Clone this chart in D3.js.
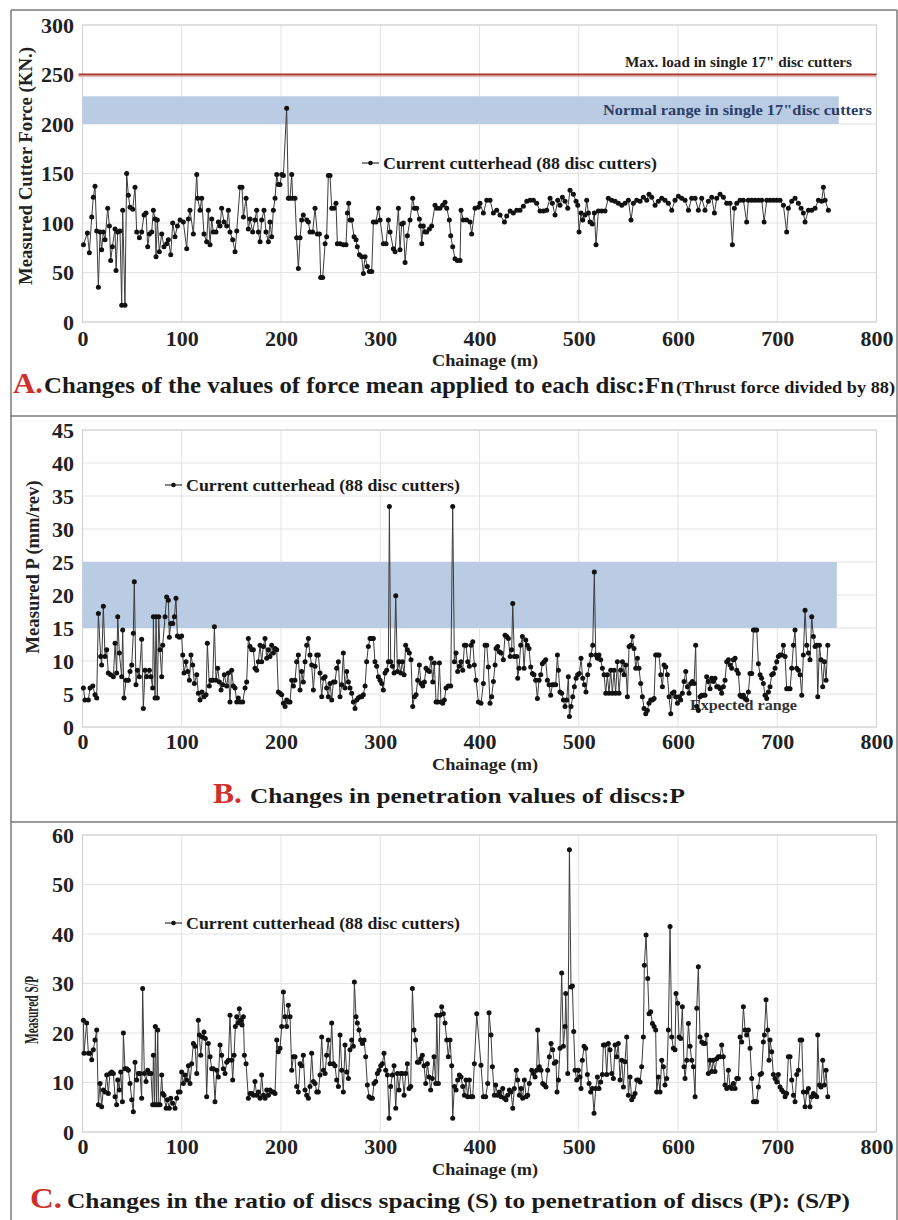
<!DOCTYPE html>
<html><head><meta charset="utf-8">
<script src="https://cdn.jsdelivr.net/npm/d3@7"></script>
<style>body{margin:0;background:#fff}svg{display:block}</style>
</head><body><svg id="c" width="898" height="1220"></svg>
<script>
// ---------------- DATA ----------------
const xTicks = [0,100,200,300,400,500,600,700,800];
const forceTicks = [0,50,100,150,200,250,300];
const penTicks = [0,5,10,15,20,25,30,35,40,45];
const spTicks = [0,10,20,30,40,50,60];

const chainageA = [1,4.9,6.9,9.3,10.9,12.6,14.3,16.0,17.7,19.3,
21.0,22.7,25.4,27.1,28.4,30.1,32.8,33.8,35.5,37.8,
39.5,40.5,42.8,44.5,46.2,47.9,50.6,52.9,54.6,57.3,
59.6,62.0,64.0,65.7,67.4,69.7,71.4,73.1,74.1,75.4,
77.4,79.8,82.1,84.8,86.5,88.9,90.9,93.2,95.6,98.3,
101.6,105.0,106.7,108.3,111.7,115.1,116.1,118.4,120.1,122.4,
125.1,126.8,128.5,130.2,131.8,134.5,136.9,138.6,140.2,142.6,
145.3,147.0,148.6,151.3,153.7,155.4,158.7,160.7,162.1,164.8,
167.1,168.8,171.5,173.8,175.5,177.2,178.9,180.5,182.9,184.9,
187.3,188.9,190.6,192.3,194.0,195.7,197.3,199.0,200.7,202.4,
205.7,207.4,209.1,210.8,211.8,214.1,215.8,217.5,219.2,220.8,
222.5,225.9,227.6,229.2,231.9,234.3,236.6,238.7,240.0,242.0,
244.4,246.0,247.7,249.4,251.1,253.4,255.4,256.8,259.5,262.8,
265.5,266.9,268.2,269.5,271.2,273.6,275.6,276.9,279.0,281.3,
283.0,284.7,287.0,289.0,291.4,293.1,295.7,298.1,299.8,303.1,
305.8,308.2,309.9,313.2,314.9,318.3,319.9,321.6,323.3,325.0,
327.3,330.0,332.7,334.4,336.7,339.4,340.7,341.8,343.4,345.1,
346.8,349.5,351.8,355.2,356.9,360.2,362.9,365.3,367.0,369.6,
371.0,373.0,375.3,377.7,380.4,381.4,383.7,387.1,390.5,392.1,
395.5,398.9,
400.5,403.9,407.3,410.6,414.0,417.3,420.7,425.1,427.4,430.8,
434.1,437.5,440.8,444.2,447.6,450.9,454.3,457.6,461.0,464.4,
467.7,471.1,473.4,476.1,478.8,481.1,483.5,486.2,488.9,491.2,
494.6,497.3,499.0,500.3,502.3,504.0,506.3,508.0,509.7,511.4,
513.7,515.7,517.4,519.8,523.1,526.5,529.8,533.2,536.6,539.9,
543.3,546.6,550.0,552.7,555.0,558.4,561.8,565.1,568.5,570.8,
573.5,576.9,580.2,583.6,586.9,590.3,593.7,597.0,600.4,603.7,
607.1,610.5,613.8,617.2,620.5,623.9,627.2,630.6,634.0,636.7,
639.0,642.4,645.7,649.1,652.4,654.8,656.8,659.2,662.5,665.9,
669.2,670.9,674.3,677.6,681.0,684.4,686.7,689.4,692.7,696.1,
699.5,702.8,706.2,709.5,711.2,714.6,717.9,721.3,724.0,726.3,
728.0,731.4,734.7,738.1,741.5,744.8,746.5,748.2,751.5];

const forceA = [78,90,70,106,126,137,92,35,91,73,
91,83,115,97,62,76,94,52,91,92,
17,113,17,150,128,116,114,136,91,85,
91,108,110,76,89,91,113,104,66,103,
71,89,76,79,83,68,100,86,97,103,
101,74,104,113,89,149,125,113,125,89,
81,113,78,104,91,91,101,97,115,101,
97,113,91,83,71,92,136,136,106,125,
94,104,91,103,113,91,81,103,113,91,
81,101,86,113,125,149,139,139,149,148,
216,125,125,149,125,125,85,54,85,103,
108,103,101,91,91,115,89,89,45,45,
79,86,148,148,115,115,120,79,79,78,
78,110,120,103,103,86,83,76,68,66,
49,66,56,51,51,101,101,115,103,79,
79,103,91,74,71,115,73,99,100,60,
87,103,125,115,115,104,97,79,97,91,
91,94,97,118,115,115,118,121,115,103,
87,76,64,62,62,113,103,103,101,89,
115,116,
120,110,123,123,110,113,108,101,107,112,
110,113,113,117,122,123,123,120,112,112,
113,125,120,108,123,118,126,122,115,133,
129,122,118,91,110,103,108,123,110,101,
99,110,78,112,112,112,125,123,122,120,
118,120,123,103,120,123,122,126,123,129,
126,118,122,125,123,120,113,123,127,125,
123,113,125,125,113,125,113,122,126,110,
125,129,126,120,120,78,115,120,123,123,
101,123,123,123,123,123,101,123,123,123,
123,123,118,91,115,122,125,120,115,110,
101,113,113,115,123,122,136,123,113];

const chainageB = [0.9,2.5,5.9,7.6,10.3,12.6,14.3,16.0,18.3,19.3,
21.0,22.7,24.4,26.0,28.4,31.1,32.8,34.4,35.5,37.1,
39.5,40.5,41.8,43.9,46.2,47.9,49.6,51.2,52.2,53.9,
55.3,57.3,59.6,61.3,63.0,64.7,67.4,69.0,70.7,71.4,
73.1,74.1,75.4,76.8,78.1,79.8,80.8,83.2,84.8,86.5,
87.5,88.9,90.9,92.6,94.2,95.6,97.6,99.9,101.0,102.3,
104.3,106.0,107.7,109.3,111.0,112.7,115.1,116.7,118.4,120.4,
122.4,124.5,125.8,127.8,129.5,131.2,132.9,134.5,136.2,137.9,
139.6,141.3,142.9,145.3,147.0,148.6,150.3,152.0,153.7,155.4,
157.0,158.7,161.4,163.8,165.4,167.1,168.8,170.5,172.2,173.8,
175.5,177.2,178.9,180.5,182.2,183.9,185.6,187.3,188.9,190.6,
192.3,194.0,195.7,197.3,199.0,200.7,202.4,204.1,205.7,207.4,
209.1,210.8,212.5,214.1,215.8,217.5,219.2,220.8,222.5,224.2,
225.9,227.6,229.2,230.9,232.6,234.3,236.0,237.6,239.3,241.0,
242.7,244.4,246.0,247.7,249.4,251.1,252.8,254.4,256.1,257.8,
259.5,261.2,262.8,264.5,266.2,267.9,269.5,271.2,272.9,274.6,
276.3,277.9,279.6,281.3,283.0,284.7,286.3,288.0,289.7,291.4,
293.1,294.7,296.4,298.1,299.8,301.5,303.1,304.8,306.5,308.2,
309.2,310.5,312.2,313.9,315.6,317.3,318.9,320.6,322.3,324.0,
325.6,327.3,329.3,331.0,332.7,334.4,336.1,337.7,339.4,341.1,
342.8,344.5,346.1,347.8,349.5,351.2,352.9,354.5,356.2,357.9,
359.6,361.2,362.9,364.6,366.3,368.6,371.0,373.0,374.7,376.4,
378.0,379.7,381.4,383.1,384.8,386.4,388.1,389.8,391.5,393.2,
394.8,396.5,398.9,
401.5,403.9,405.6,407.3,408.9,410.6,412.3,414.0,415.7,416.7,
418.3,420.0,421.7,424.0,425.7,427.4,429.1,430.8,432.4,433.5,
435.1,437.5,438.5,439.8,441.5,443.2,444.9,446.6,448.2,449.9,
451.6,453.3,454.9,456.6,458.3,460.0,461.7,463.3,465.0,466.7,
468.4,470.1,471.7,473.4,475.1,476.8,478.5,479.5,481.1,482.8,
484.5,486.2,487.9,489.5,490.6,492.2,493.9,495.6,497.3,498.9,
500.6,502.3,504.0,505.7,507.3,509.0,510.7,512.4,514.1,515.7,
517.1,518.8,520.4,522.1,523.8,525.5,527.2,528.8,530.5,532.2,
533.9,535.6,537.2,538.9,540.6,542.3,544.0,545.6,547.3,549.0,
550.7,552.4,554.0,555.7,557.4,559.1,560.7,562.4,564.1,565.8,
567.5,569.1,570.8,572.5,574.2,575.9,577.5,579.2,580.9,582.6,
584.3,585.9,587.6,589.3,591.0,592.7,594.3,596.0,597.7,599.4,
601.1,602.7,604.4,606.1,607.8,609.5,611.1,612.8,614.5,616.2,
617.8,618.9,620.5,622.2,623.9,625.6,627.2,628.9,630.6,632.3,
634.0,635.6,637.3,639.0,640.7,642.4,644.0,645.7,647.4,649.1,
650.8,652.4,654.1,655.8,657.5,659.2,660.8,662.5,664.2,665.9,
667.6,669.2,670.9,672.6,674.3,676.0,677.6,679.3,681.0,682.7,
684.3,686.0,687.7,689.4,691.1,692.7,694.4,696.1,697.8,699.5,
701.1,702.8,704.5,706.2,707.9,709.5,711.2,712.9,714.6,716.3,
717.9,719.6,721.3,723.0,724.7,726.3,728.0,729.7,731.4,733.0,
734.7,736.4,738.1,739.8,740.8,742.5,744.1,745.8,747.5,749.2,
750.9];

const penB = [5.9,4.1,4.1,5.9,6.2,4.9,4.4,17.2,10.7,9.4,
18.3,10.7,11.7,8.2,7.9,7.6,12.7,8.2,16.7,11.2,
7.6,14.7,4.4,7.1,7.1,8.4,9.4,14.2,22.0,6.4,
8.6,7.6,13.3,2.8,8.6,7.6,8.6,7.6,5.9,16.7,
4.4,16.7,4.4,16.7,11.7,7.6,12.4,16.7,19.7,19.2,
13.6,15.7,15.7,16.7,19.5,13.8,13.6,13.8,10.9,8.2,
9.9,8.4,7.1,10.9,9.4,6.6,7.9,5.1,4.1,5.3,
4.6,4.9,12.7,6.2,7.1,7.1,15.2,7.1,8.9,6.8,
5.6,6.4,7.9,6.2,8.2,3.8,8.6,6.2,5.9,3.8,
4.4,3.8,3.8,5.9,6.8,13.4,12.2,11.7,11.7,8.9,
8.6,9.9,12.4,9.9,12.2,13.4,10.4,11.7,10.7,12.4,
11.2,11.9,11.7,5.3,5.1,4.9,3.6,3.1,4.1,3.8,
3.8,7.1,6.2,7.1,9.9,10.9,5.6,8.4,6.8,9.9,
12.4,13.4,10.9,9.4,5.6,9.2,10.9,10.9,8.2,4.6,
7.4,7.6,5.9,4.6,6.6,4.1,6.8,6.8,8.9,9.9,
4.6,6.4,11.2,5.9,8.4,6.8,5.9,5.1,3.8,2.8,
4.1,4.4,4.6,4.6,4.9,6.2,9.9,12.2,13.4,13.4,
13.4,9.9,9.2,7.6,7.1,6.6,5.6,8.2,8.6,9.9,
33.4,9.9,9.2,8.2,19.9,8.4,9.9,8.2,9.9,7.9,
12.4,11.7,11.2,10.2,3.1,4.6,4.9,7.1,9.4,6.6,
6.2,6.8,8.9,8.6,8.4,10.4,6.8,9.7,3.8,3.8,
9.7,3.8,3.6,4.1,5.9,6.2,6.2,33.4,9.9,11.2,
8.4,9.2,9.9,8.6,12.4,12.4,9.9,9.2,12.4,12.9,
9.4,7.1,3.8,
3.6,6.6,12.4,12.4,9.1,3.6,4.6,6.9,9.4,11.9,
12.2,11.4,11.2,10.2,13.9,13.7,13.4,10.7,11.7,18.7,
10.7,10.7,7.4,8.9,12.4,13.7,8.9,13.2,12.4,11.9,
9.1,8.1,7.9,7.1,4.3,7.1,7.9,9.6,9.9,10.2,
7.1,6.4,4.8,6.4,6.4,6.4,10.9,8.6,5.3,5.1,
4.1,3.1,4.1,7.6,1.6,3.1,4.6,6.1,7.4,7.9,
8.1,10.4,7.4,6.4,5.3,7.9,9.4,10.9,12.4,23.5,
10.9,10.4,10.9,10.2,8.9,7.9,5.1,7.9,5.1,8.6,
5.1,8.6,5.1,9.9,5.1,8.6,9.9,7.9,9.4,4.6,
12.2,12.4,13.7,11.9,8.9,10.4,8.9,6.6,4.6,2.8,
2.0,2.5,3.6,4.1,4.1,4.3,10.9,10.9,10.9,7.9,
6.1,9.4,9.1,7.9,4.6,2.0,5.1,5.3,4.6,3.6,
4.6,4.1,5.1,6.9,8.4,6.1,5.1,6.6,6.9,6.6,
12.4,3.1,2.5,4.6,4.8,4.8,4.8,7.6,6.9,5.8,
7.4,6.9,7.4,6.1,6.1,5.8,5.1,6.1,7.1,9.9,
10.2,9.4,8.9,10.2,10.4,8.6,8.1,4.8,4.6,4.8,
4.3,4.1,5.3,8.1,8.1,14.7,14.7,14.7,9.6,7.9,
7.4,6.6,4.8,4.3,5.3,6.1,7.9,8.1,8.9,9.9,
10.7,10.9,10.9,12.4,10.7,5.8,5.8,5.8,8.9,12.4,
14.7,8.9,8.6,7.9,4.8,10.9,17.7,12.4,11.2,10.2,
16.7,13.7,12.2,12.4,4.6,12.4,10.2,6.1,9.9,7.1,
12.4];

const chainageC = [0.9,1.5,4.2,5.9,7.6,9.3,10.9,12.6,14.3,16.0,
17.7,19.3,21.0,22.7,24.4,26.0,27.7,29.4,31.1,32.8,
34.4,35.5,37.1,38.5,40.2,41.2,42.8,44.5,46.2,47.9,
49.6,51.2,52.9,54.6,56.3,58.0,59.6,60.6,62.3,64.0,
65.7,67.4,69.0,70.7,71.4,72.7,73.4,74.7,75.8,76.8,
78.1,79.8,80.8,82.1,84.2,85.5,87.5,88.9,90.9,93.2,
94.9,96.6,98.3,99.9,101.6,103.3,105.0,106.7,108.3,110.0,
111.7,113.4,115.1,116.7,117.7,119.1,120.8,122.4,123.8,125.1,
126.8,128.5,130.2,131.8,133.5,135.2,136.9,138.6,140.2,141.9,
143.6,145.3,147.0,148.6,150.3,151.3,152.7,154.0,155.4,157.0,
158.0,159.4,160.7,162.1,163.1,164.8,167.1,168.8,170.5,172.2,
173.8,175.5,177.2,178.9,180.5,182.2,183.9,185.6,187.3,188.9,
190.6,192.3,194.0,195.7,197.3,199.0,200.7,202.4,204.1,205.7,
207.4,209.1,210.8,212.5,214.1,215.8,217.5,219.2,220.8,222.5,
224.2,225.9,227.6,229.2,230.9,232.6,234.3,236.0,237.6,239.3,
241.0,242.7,244.4,246.0,247.7,249.4,251.1,252.8,254.4,256.1,
257.8,259.5,261.2,262.8,264.5,266.2,267.9,269.5,271.2,272.9,
273.9,275.6,276.9,278.6,280.3,282.0,283.7,285.3,287.0,288.7,
290.4,292.1,293.7,295.4,297.1,298.8,300.5,302.1,303.8,305.5,
307.2,308.9,310.5,312.2,313.9,315.6,317.3,318.9,320.6,322.3,
324.0,325.6,327.3,329.0,330.7,332.4,334.0,335.7,337.4,339.1,
340.8,342.4,344.1,345.8,347.5,349.2,350.8,352.5,354.2,355.9,
356.9,358.6,360.2,361.9,363.6,365.3,367.0,368.6,370.3,372.0,
373.0,374.7,376.4,378.0,379.7,381.4,383.1,384.8,386.4,388.1,
389.8,391.5,393.2,394.8,397.2,
401.5,403.9,406.2,408.3,409.6,411.6,413.0,415.0,416.3,418.3,
420.0,421.7,423.4,425.1,426.7,428.4,430.1,431.8,433.5,435.1,
437.1,438.5,440.2,441.9,443.5,445.2,446.9,448.6,450.2,452.6,
454.3,456.0,457.6,458.6,460.3,462.0,463.7,465.4,467.0,468.7,
470.4,472.1,473.8,475.4,477.1,478.1,479.5,481.1,482.8,484.5,
486.2,486.9,488.9,490.6,492.2,493.6,494.9,496.3,497.9,499.6,
501.3,502.3,503.6,505.3,507.0,508.7,510.4,512.0,513.7,515.4,
517.1,518.8,520.4,522.1,523.8,524.8,526.5,528.2,529.8,531.5,
533.2,534.9,536.6,538.2,539.9,541.6,543.3,545.0,546.6,548.3,
550.0,551.7,553.4,555.0,556.7,558.4,560.1,561.8,563.4,565.1,
566.1,567.8,569.5,570.8,572.5,574.2,575.9,577.5,578.5,580.2,
581.9,583.6,585.3,586.9,588.6,590.3,592.0,593.7,595.3,597.0,
598.0,599.7,601.1,602.7,604.4,606.1,607.1,608.8,610.5,612.1,
613.8,615.5,617.2,618.9,620.5,622.2,623.9,625.6,627.2,628.9,
630.6,632.3,634.0,635.6,637.3,639.0,640.7,642.4,644.0,645.7,
647.4,649.1,650.8,652.4,654.1,655.8,657.5,659.2,660.8,662.5,
664.2,665.9,667.6,669.2,670.9,672.6,674.3,676.0,677.6,679.3,
681.0,682.7,684.3,686.0,687.0,688.7,690.4,691.7,692.7,694.4,
696.1,697.8,699.5,701.1,702.8,704.5,706.2,707.9,709.5,711.2,
712.9,714.6,716.3,717.9,719.6,721.3,723.0,724.7,726.3,728.0,
729.7,731.4,733.0,734.7,736.4,738.1,739.8,740.8,742.5,744.1,
745.8,747.5,749.2,750.9];

const spC = [22.6,15.9,22.0,15.9,15.9,14.6,16.6,18.6,20.6,5.5,
9.8,5.1,8.5,8.1,11.5,7.8,11.8,12.1,11.8,7.1,
5.5,10.5,8.5,12.1,6.1,20.0,12.8,12.8,12.5,9.8,
6.5,4.1,14.1,10.5,11.8,11.8,6.8,29.0,11.8,10.2,
12.5,11.8,11.8,5.5,15.5,5.5,21.3,5.5,20.6,5.5,
5.5,11.5,7.8,7.4,4.8,6.5,4.8,6.8,5.8,4.8,
6.8,8.1,8.1,12.1,9.8,11.5,10.5,13.4,9.8,13.8,
17.9,17.3,11.8,22.6,19.6,15.5,19.2,20.2,18.9,7.1,
17.9,15.2,12.8,12.8,6.1,12.5,11.1,17.6,15.5,12.8,
11.8,14.1,14.5,23.6,14.5,10.5,15.5,21.3,23.3,22.0,
24.9,22.6,21.6,23.3,15.5,13.8,6.8,7.8,7.8,7.4,
10.2,7.4,8.1,6.8,11.5,7.4,6.8,8.5,7.4,8.5,
8.1,8.1,7.8,18.6,16.2,16.9,21.3,28.3,23.3,21.3,
25.6,23.3,12.5,15.2,15.2,9.2,8.1,13.8,13.4,15.5,
8.5,7.4,6.8,9.2,15.9,10.2,9.8,8.1,8.1,11.5,
19.2,12.5,11.8,15.5,18.6,13.8,22.0,13.8,13.4,10.5,
9.2,19.6,12.5,8.1,17.6,12.1,10.8,16.6,18.6,17.3,
30.3,23.3,22.0,20.6,18.6,17.9,18.6,15.2,9.5,7.1,
6.8,6.8,9.8,10.2,11.8,12.5,13.4,13.8,15.9,12.5,
11.5,2.8,9.2,11.5,13.4,4.8,11.8,8.5,11.8,11.8,
7.4,11.8,13.8,8.8,9.2,29.0,20.6,18.6,14.1,14.1,
14.8,15.5,13.4,9.8,13.8,11.1,8.5,10.8,15.2,9.8,
23.6,9.8,23.6,25.3,23.9,22.0,18.6,15.2,18.6,13.4,
2.8,9.2,8.5,10.5,11.5,11.1,9.2,7.4,10.5,7.1,
10.5,7.1,7.1,13.8,23.9,
13.5,7.1,7.1,9.8,24.1,19.6,13.2,7.4,9.5,7.4,
8.1,7.1,8.8,6.8,6.5,7.4,8.5,8.1,4.8,8.8,
12.5,10.5,7.4,8.8,6.8,10.5,7.1,7.4,9.8,12.5,
11.8,11.1,12.5,20.6,13.2,12.5,9.8,9.5,9.1,12.5,
15.2,17.9,16.6,13.9,14.2,8.1,10.5,16.9,32.1,17.3,
21.3,28.0,11.8,57.0,29.3,29.5,20.3,12.5,10.5,12.5,
11.1,8.8,14.5,17.3,16.9,11.6,9.8,8.1,8.8,3.8,
8.8,11.1,8.8,10.1,11.6,17.6,17.6,11.6,17.9,16.6,
11.8,10.8,17.6,15.2,17.9,10.5,14.5,9.1,14.2,19.2,
7.4,11.1,6.5,7.1,7.8,10.5,10.5,10.1,13.2,19.2,
33.7,39.8,31.0,23.9,24.3,21.9,21.3,20.6,8.1,11.1,
8.1,14.5,13.2,9.5,10.8,20.6,41.5,19.2,16.9,16.6,
28.0,26.0,19.2,18.9,25.3,13.2,10.8,14.5,21.9,17.3,
14.5,13.2,7.1,25.0,33.4,19.2,18.2,17.9,17.9,19.6,
11.8,14.5,12.2,14.5,12.2,14.8,15.2,15.2,17.6,15.2,
9.5,8.8,12.5,9.1,8.8,9.8,8.8,10.8,10.8,19.2,
18.2,25.3,20.6,19.6,20.6,16.9,10.8,6.1,6.1,6.1,
9.1,11.6,11.8,18.2,19.6,26.7,20.6,14.5,18.6,16.2,
11.6,10.8,10.1,11.6,9.1,8.5,8.1,7.1,7.8,15.2,
15.2,10.5,7.4,6.1,11.6,12.5,18.6,18.6,8.1,5.1,
8.1,8.8,5.1,7.1,7.8,7.4,7.1,19.6,9.5,9.1,
14.5,9.5,12.5,7.1];

const maxLoad = 250;
const normalRange = [200, 228];
const normalRangeEnd = 762;
const expectedRange = [15, 25];
const expectedRangeEnd = 760;

const legendLabel = "Current cutterhead (88 disc cutters)";
const xTitle = "Chainage (m)";
const yTitles = ["Measured Cutter Force (KN.)", "Measured P (mm/rev)", "Measured S/P"];
const maxLoadLabel = 'Max. load in single 17" disc cutters';
const normalLabel = 'Normal range in single 17"disc cutters';
const expectedLabel = "Expected range";
const captionA = ["A.", "Changes of the values of force mean applied to each disc:Fn", "(Thrust force divided by 88)"];
const captionB = ["B.", "Changes in penetration values of discs:P"];
const captionC = ["C.", "Changes in the ratio of discs spacing (S) to penetration of discs (P): (S/P)"];

// ---------------- DRAW ----------------
const FONT = '"Liberation Serif","Times New Roman",serif';
const svg = d3.select("#c");
svg.append("rect").attr("width", 898).attr("height", 1220).attr("fill", "#fff");

const X0 = 82.5, X1 = 876.5;
const x = d3.scaleLinear().domain([0, 800]).range([X0, X1]);

function fitText(g, str, px, py, size, width, fill, opts = {}) {
  const t = g.append("text").attr("x", px).attr("y", py)
    .attr("font-family", FONT).attr("font-weight", "bold")
    .attr("font-size", size).attr("fill", fill).text(str);
  if (width) t.attr("textLength", width).attr("lengthAdjust", "spacingAndGlyphs");
  if (opts.anchor) t.attr("text-anchor", opts.anchor);
  if (opts.transform) t.attr("transform", opts.transform);
  return t;
}

// outer frames
const frame = svg.append("g").attr("stroke", "#7a7a7a").attr("stroke-width", 1.5);
frame.append("line").attr("x1", 11).attr("x2", 897).attr("y1", 10).attr("y2", 10);
frame.append("line").attr("x1", 11).attr("x2", 897).attr("y1", 416).attr("y2", 416);
frame.append("line").attr("x1", 11).attr("x2", 897).attr("y1", 822).attr("y2", 822);
frame.append("line").attr("x1", 11).attr("x2", 11).attr("y1", 10).attr("y2", 1220);
frame.append("line").attr("x1", 897).attr("x2", 897).attr("y1", 10).attr("y2", 1220);

const panels = [
  {xs: chainageA, ys: forceA, ticks: forceTicks, yMax: 300, top: 25, bottom: 322, xPad: 8,
   title: yTitles[0], tPos: [26, 166], tLen: 238, xTitleY: 366, leg: [362, 163]},
  {xs: chainageB, ys: penB, ticks: penTicks, yMax: 45, top: 430, bottom: 727, xPad: 6.5,
   title: yTitles[1], tPos: [33, 567], tLen: 173, xTitleY: 770, leg: [165, 485]},
  {xs: chainageC, ys: spC, ticks: spTicks, yMax: 60, top: 835, bottom: 1132, xPad: 6.5,
   title: yTitles[2], tPos: [32, 1010], tLen: 68, xTitleY: 1175, leg: [165, 923]}
];

panels.forEach((p, i) => {
  const y = d3.scaleLinear().domain([0, p.yMax]).range([p.bottom, p.top]);
  const g = svg.append("g");

  // plot background + grid
  g.append("rect").attr("x", X0).attr("y", p.top).attr("width", X1 - X0).attr("height", p.bottom - p.top)
    .attr("fill", "#fff");
  g.append("g").selectAll("line").data(p.ticks).join("line")
    .attr("x1", X0).attr("x2", X1).attr("y1", d => y(d)).attr("y2", d => y(d))
    .attr("stroke", "#e3e3e3").attr("stroke-width", 1);
  g.append("g").selectAll("line").data(xTicks).join("line")
    .attr("x1", d => x(d)).attr("x2", d => x(d)).attr("y1", p.top).attr("y2", p.bottom)
    .attr("stroke", "#e3e3e3").attr("stroke-width", 1);
  g.append("rect").attr("x", X0).attr("y", p.top).attr("width", X1 - X0).attr("height", p.bottom - p.top)
    .attr("fill", "none").attr("stroke", "#d4d4d4").attr("stroke-width", 1.2);

  // reference bands / lines
  if (i === 0) {
    g.append("rect").attr("x", x(0)).attr("width", x(normalRangeEnd) - x(0))
      .attr("y", y(normalRange[1])).attr("height", y(normalRange[0]) - y(normalRange[1]))
      .attr("fill", "#b9cce4");
    g.append("line").attr("x1", X0 - 4).attr("x2", X1).attr("y1", y(maxLoad) + 2).attr("y2", y(maxLoad) + 2)
      .attr("stroke", "#e9b9b5").attr("stroke-width", 1.5);
    g.append("line").attr("x1", X0 - 4).attr("x2", X1).attr("y1", y(maxLoad)).attr("y2", y(maxLoad))
      .attr("stroke", "#a8392f").attr("stroke-width", 2);
    fitText(g, maxLoadLabel, 625, 66.5, 14, 227, "#222");
    fitText(g, normalLabel, 603, 115, 15, 269, "#2b3d66");
  }
  if (i === 1) {
    g.append("rect").attr("x", x(0)).attr("width", x(expectedRangeEnd) - x(0))
      .attr("y", y(expectedRange[1])).attr("height", y(expectedRange[0]) - y(expectedRange[1]))
      .attr("fill", "#b9cce4");
    fitText(g, expectedLabel, 690, 710, 15, 107, "#333");
  }

  // axes labels (through d3 axes)
  const ya = g.append("g").attr("transform", `translate(${X0},0)`)
    .call(d3.axisLeft(y).tickValues(p.ticks).tickSize(0).tickPadding(8.5).tickFormat(d3.format("d")));
  ya.select(".domain").remove();
  ya.selectAll("text").attr("font-family", FONT).attr("font-weight", "bold")
    .attr("font-size", 22).attr("fill", "#222").attr("dy", "0.34em");
  const xa = g.append("g").attr("transform", `translate(0,${p.bottom})`)
    .call(d3.axisBottom(x).tickValues(xTicks).tickSize(0).tickPadding(p.xPad).tickFormat(d3.format("d")));
  xa.select(".domain").remove();
  xa.selectAll("text").attr("font-family", FONT).attr("font-weight", "bold")
    .attr("font-size", 22).attr("fill", "#222");

  // axis titles
  fitText(g, xTitle, 485, p.xTitleY, 16.5, 106, "#222", {anchor: "middle"});
  fitText(g, p.title, 0, 0, 18, p.tLen, "#222",
    {anchor: "middle", transform: `translate(${p.tPos[0] + 6},${p.tPos[1]}) rotate(-90)`});

  // legend
  const [lx, ly] = p.leg;
  g.append("line").attr("x1", lx).attr("x2", lx + 17).attr("y1", ly).attr("y2", ly)
    .attr("stroke", "#333").attr("stroke-width", 1.2);
  g.append("circle").attr("cx", lx + 8.5).attr("cy", ly).attr("r", 2.3).attr("fill", "#111");
  fitText(g, legendLabel, lx + 21, ly + 5.5, 16.5, 274, "#1a1a1a");

  // data
  const n = Math.min(p.xs.length, p.ys.length);
  const pts = d3.range(n).map(k => [p.xs[k], p.ys[k]]);
  g.append("path").datum(pts)
    .attr("d", d3.line().x(d => x(d[0])).y(d => y(d[1])))
    .attr("fill", "none").attr("stroke", "#3c3c3c").attr("stroke-width", 1);
  g.append("g").selectAll("circle").data(pts).join("circle")
    .attr("cx", d => x(d[0])).attr("cy", d => y(d[1])).attr("r", 2.5).attr("fill", "#111");
});

// captions
const cap = svg.append("g");
fitText(cap, captionA[0], 13, 393, 29, 30, "#d0302c");
fitText(cap, captionA[1], 44, 393, 24, 630, "#1a1a1a");
fitText(cap, captionA[2], 676, 393, 17, 219, "#1a1a1a");
fitText(cap, captionB[0], 213, 803, 29, 29, "#d0302c");
fitText(cap, captionB[1], 250, 803, 22, 435, "#1a1a1a");
fitText(cap, captionC[0], 30, 1208, 29, 32, "#d0302c");
fitText(cap, captionC[1], 67, 1208, 22, 783, "#1a1a1a");
</script>
</body></html>
